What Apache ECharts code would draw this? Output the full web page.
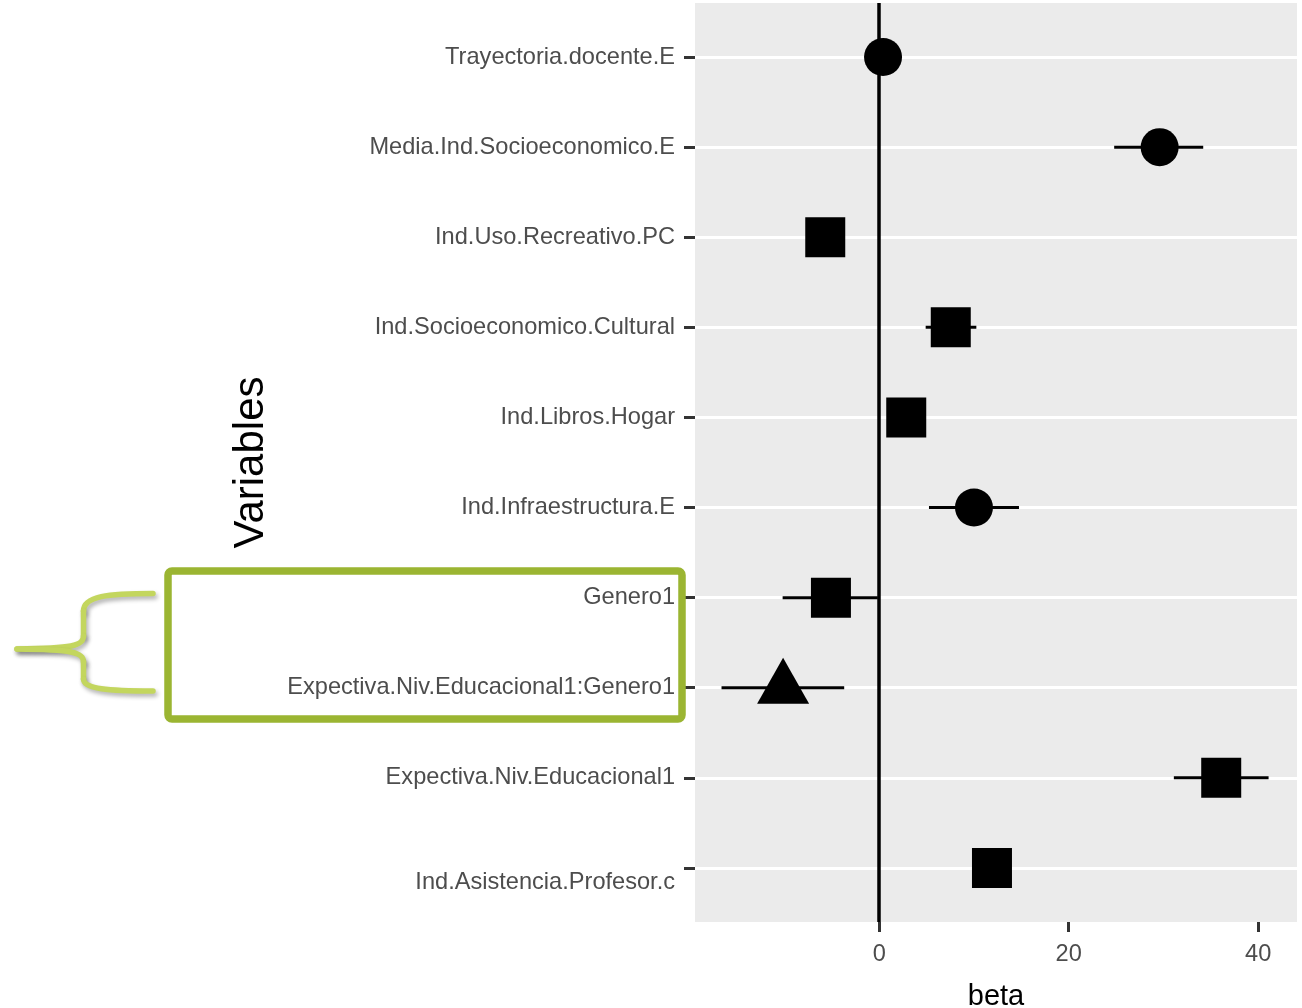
<!DOCTYPE html>
<html>
<head>
<meta charset="utf-8">
<title>Coeficientes beta por variable</title>
<script src="https://cdn.jsdelivr.net/npm/echarts@6/dist/echarts.min.js"></script>
<style>
  html, body { margin: 0; padding: 0; background: #ffffff; }
  #chart { width: 1302px; height: 1008px; }
</style>
</head>
<body>
<div id="chart"></div>
<script>
// Model terms, top to bottom
const categories = [
  'Trayectoria.docente.E',
  'Media.Ind.Socioeconomico.E',
  'Ind.Uso.Recreativo.PC',
  'Ind.Socioeconomico.Cultural',
  'Ind.Libros.Hogar',
  'Ind.Infraestructura.E',
  'Genero1',
  'Expectiva.Niv.Educacional1:Genero1',
  'Expectiva.Niv.Educacional1',
  'Ind.Asistencia.Profesor.c'
];
// Point estimates and interval bounds
const beta  = [0.4, 29.6, -5.7, 7.55, 2.85, 10.0, -5.1, -10.15, 36.1, 11.9];
const lower = [-0.6, 24.8, -7.2, 4.9, 1.3, 5.25, -10.2, -16.65, 31.1, 10.4];
const upper = [1.4, 34.2, -4.2, 10.25, 4.4, 14.75, -0.15, -3.7, 41.1, 13.4];
// Marker group of each term
const shape = ['circle', 'circle', 'square', 'square', 'square', 'circle', 'square', 'triangle', 'square', 'square'];
// Tick values on the beta axis
const xTicks = [0, 20, 40];

const FONT = "'Liberation Sans', Arial, sans-serif";
const rowIndex = categories.map((_, i) => i + 1);

const markerStyle = {
  circle:   { symbol: 'circle',   symbolSize: 38,       symbolOffset: [0, 0] },
  square:   { symbol: 'rect',     symbolSize: 40,       symbolOffset: [0, 0] },
  triangle: { symbol: 'triangle', symbolSize: [52, 46], symbolOffset: [0, -7] }
};

const pointData = categories.map((c, i) => Object.assign(
  { value: [beta[i], rowIndex[i]] }, markerStyle[shape[i]]
));
const intervalData = categories.map((c, i) => [lower[i], upper[i], rowIndex[i]]);

// Curly brace built from curve and line pieces
const braceStyle = {
  fill: 'none', stroke: '#C3D65E', lineWidth: 5.5, lineCap: 'round',
  shadowColor: 'rgba(0,0,0,0.3)', shadowBlur: 4, shadowOffsetX: 2, shadowOffsetY: 3
};
const braceParts = [
  { type: 'bezierCurve', shape: { x1: 153, y1: 593.5, cpx1: 108, cpy1: 593.5, cpx2: 83.5, cpy2: 596, x2: 83.5, y2: 611 } },
  { type: 'line', shape: { x1: 83.5, y1: 611, x2: 83.5, y2: 636 } },
  { type: 'bezierCurve', shape: { x1: 83.5, y1: 636, cpx1: 83.5, cpy1: 646, cpx2: 72, cpy2: 648.5, x2: 17, y2: 649 } },
  { type: 'bezierCurve', shape: { x1: 17, y1: 649, cpx1: 72, cpy1: 649.5, cpx2: 83.5, cpy2: 652, x2: 83.5, y2: 662 } },
  { type: 'line', shape: { x1: 83.5, y1: 662, x2: 83.5, y2: 679 } },
  { type: 'bezierCurve', shape: { x1: 83.5, y1: 679, cpx1: 83.5, cpy1: 689, cpx2: 108, cpy2: 691, x2: 153, y2: 691 } }
].map(p => Object.assign({ z: 10, style: braceStyle }, p));

const chart = echarts.init(document.getElementById('chart'), null, { renderer: 'canvas' });

chart.setOption({
  animation: false,
  backgroundColor: '#ffffff',
  grid: {
    left: 695, right: 5, top: 3, bottom: 86,
    outerBoundsMode: 'none',
    containLabel: false,
    show: true, backgroundColor: '#EBEBEB', borderWidth: 0
  },
  xAxis: {
    type: 'value',
    min: -19.45, max: 44.1,
    name: 'beta',
    nameLocation: 'middle',
    nameGap: 60,
    nameTextStyle: { fontFamily: FONT, fontSize: 29, color: '#000000' },
    axisLine: { show: false, onZero: false },
    axisTick: { show: true, customValues: xTicks, length: 10, lineStyle: { color: '#333333', width: 3 } },
    axisLabel: { customValues: xTicks, margin: 20, fontFamily: FONT, fontSize: 23.6, color: '#4D4D4D' },
    splitLine: { show: false }
  },
  yAxis: {
    type: 'value',
    inverse: true,
    min: 0.4, max: 10.6,
    name: 'Variables',
    nameLocation: 'middle',
    nameRotate: 90,
    nameGap: 423,
    nameTextStyle: { fontFamily: FONT, fontSize: 42, color: '#000000' },
    axisLine: { show: false, onZero: false },
    axisTick: { show: true, customValues: rowIndex, length: 11, lineStyle: { color: '#333333', width: 3 } },
    axisLabel: {
      customValues: rowIndex,
      margin: 20,
      fontFamily: FONT, fontSize: 23.6, color: '#4D4D4D',
      lineHeight: 29,
      padding: [15, 0, 0, 0],
      // the bottom term's label sits slightly below its tick
      formatter: v => (v === categories.length ? '\n' : '') + categories[v - 1]
    },
    splitLine: { show: true, lineStyle: { color: '#FFFFFF', width: 3.2 } }
  },
  series: [
    {
      type: 'custom',
      name: 'intervalo',
      z: 2,
      data: intervalData,
      encode: { x: [0, 1], y: 2 },
      renderItem: function (params, api) {
        const a = api.coord([api.value(0), api.value(2)]);
        const b = api.coord([api.value(1), api.value(2)]);
        return {
          type: 'line',
          shape: { x1: a[0], y1: a[1], x2: b[0], y2: b[1] },
          style: { stroke: '#000000', lineWidth: 3 }
        };
      },
      markLine: {
        silent: true,
        symbol: 'none',
        label: { show: false },
        lineStyle: { color: '#000000', width: 3.5, type: 'solid' },
        data: [{ xAxis: 0 }]
      }
    },
    {
      type: 'scatter',
      name: 'beta',
      z: 3,
      itemStyle: { color: '#000000', opacity: 1 },
      data: pointData
    }
  ],
  graphic: [
    {
      // highlight box around the gender terms
      type: 'rect',
      z: 10,
      shape: { x: 168, y: 571, width: 514, height: 148, r: 4 },
      style: { fill: 'none', stroke: '#9BB532', lineWidth: 7.5 }
    }
  ].concat(braceParts)
});
</script>
</body>
</html>
